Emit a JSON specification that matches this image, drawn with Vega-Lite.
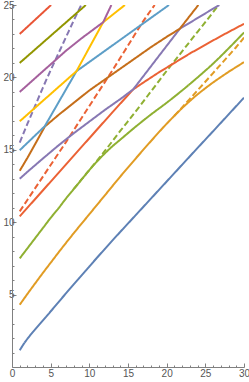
{
  "$schema": "https://vega.github.io/schema/vega-lite/v6.json",
  "width": 232,
  "height": 362,
  "autosize": {"type": "none"},
  "padding": {"left": 12, "top": 5, "right": 5, "bottom": 15},
  "background": "white",
  "config": {"view": {"stroke": null}},
  "data": {"values": [
    {"s": "s01", "st": "solid", "k": "smooth", "x": 1, "y": 1.15}, {"s": "s01", "st": "solid", "k": "smooth", "x": 1.5, "y": 1.58}, {"s": "s01", "st": "solid", "k": "smooth", "x": 2, "y": 1.95}, {"s": "s01", "st": "solid", "k": "smooth", "x": 3, "y": 2.6}, {"s": "s01", "st": "solid", "k": "smooth", "x": 4, "y": 3.22}, {"s": "s01", "st": "solid", "k": "smooth", "x": 5, "y": 3.84}, {"s": "s01", "st": "solid", "k": "smooth", "x": 6, "y": 4.47}, {"s": "s01", "st": "solid", "k": "smooth", "x": 7, "y": 5.1}, {"s": "s01", "st": "solid", "k": "smooth", "x": 8, "y": 5.72}, {"s": "s01", "st": "solid", "k": "smooth", "x": 9, "y": 6.33}, {"s": "s01", "st": "solid", "k": "smooth", "x": 10, "y": 6.94}, {"s": "s01", "st": "solid", "k": "smooth", "x": 11, "y": 7.55}, {"s": "s01", "st": "solid", "k": "smooth", "x": 12, "y": 8.15}, {"s": "s01", "st": "solid", "k": "smooth", "x": 13, "y": 8.75}, {"s": "s01", "st": "solid", "k": "smooth", "x": 14, "y": 9.33}, {"s": "s01", "st": "solid", "k": "smooth", "x": 16, "y": 10.49}, {"s": "s01", "st": "solid", "k": "smooth", "x": 18, "y": 11.65}, {"s": "s01", "st": "solid", "k": "smooth", "x": 20, "y": 12.81}, {"s": "s01", "st": "solid", "k": "smooth", "x": 22, "y": 13.97}, {"s": "s01", "st": "solid", "k": "smooth", "x": 24, "y": 15.13}, {"s": "s01", "st": "solid", "k": "smooth", "x": 26, "y": 16.28}, {"s": "s01", "st": "solid", "k": "smooth", "x": 28, "y": 17.44}, {"s": "s01", "st": "solid", "k": "smooth", "x": 30, "y": 18.6},

    {"s": "s02", "st": "solid", "k": "smooth", "x": 1, "y": 4.3}, {"s": "s02", "st": "solid", "k": "smooth", "x": 2, "y": 5.05}, {"s": "s02", "st": "solid", "k": "smooth", "x": 3, "y": 5.78}, {"s": "s02", "st": "solid", "k": "smooth", "x": 4, "y": 6.5}, {"s": "s02", "st": "solid", "k": "smooth", "x": 5, "y": 7.2}, {"s": "s02", "st": "solid", "k": "smooth", "x": 6, "y": 7.9}, {"s": "s02", "st": "solid", "k": "smooth", "x": 8, "y": 9.25}, {"s": "s02", "st": "solid", "k": "smooth", "x": 10, "y": 10.55}, {"s": "s02", "st": "solid", "k": "smooth", "x": 12, "y": 11.85}, {"s": "s02", "st": "solid", "k": "smooth", "x": 14, "y": 13.15}, {"s": "s02", "st": "solid", "k": "smooth", "x": 16, "y": 14.4}, {"s": "s02", "st": "solid", "k": "smooth", "x": 18, "y": 15.62}, {"s": "s02", "st": "solid", "k": "smooth", "x": 20, "y": 16.8}, {"s": "s02", "st": "solid", "k": "smooth", "x": 21, "y": 17.35}, {"s": "s02", "st": "solid", "k": "smooth", "x": 22, "y": 17.88}, {"s": "s02", "st": "solid", "k": "smooth", "x": 23, "y": 18.37}, {"s": "s02", "st": "solid", "k": "smooth", "x": 24, "y": 18.83}, {"s": "s02", "st": "solid", "k": "smooth", "x": 25, "y": 19.25}, {"s": "s02", "st": "solid", "k": "smooth", "x": 26, "y": 19.65}, {"s": "s02", "st": "solid", "k": "smooth", "x": 27, "y": 20.02}, {"s": "s02", "st": "solid", "k": "smooth", "x": 28, "y": 20.38}, {"s": "s02", "st": "solid", "k": "smooth", "x": 29, "y": 20.72}, {"s": "s02", "st": "solid", "k": "smooth", "x": 30, "y": 21.05},

    {"s": "s03", "st": "solid", "k": "smooth", "x": 1, "y": 7.5}, {"s": "s03", "st": "solid", "k": "smooth", "x": 2, "y": 8.2}, {"s": "s03", "st": "solid", "k": "smooth", "x": 3, "y": 8.9}, {"s": "s03", "st": "solid", "k": "smooth", "x": 4, "y": 9.6}, {"s": "s03", "st": "solid", "k": "smooth", "x": 5, "y": 10.3}, {"s": "s03", "st": "solid", "k": "smooth", "x": 6, "y": 10.95}, {"s": "s03", "st": "solid", "k": "smooth", "x": 7, "y": 11.65}, {"s": "s03", "st": "solid", "k": "smooth", "x": 8, "y": 12.3}, {"s": "s03", "st": "solid", "k": "smooth", "x": 9, "y": 12.95}, {"s": "s03", "st": "solid", "k": "smooth", "x": 10, "y": 13.6}, {"s": "s03", "st": "solid", "k": "smooth", "x": 11, "y": 14.2}, {"s": "s03", "st": "solid", "k": "smooth", "x": 12, "y": 14.75}, {"s": "s03", "st": "solid", "k": "smooth", "x": 13, "y": 15.25}, {"s": "s03", "st": "solid", "k": "smooth", "x": 14, "y": 15.7}, {"s": "s03", "st": "solid", "k": "smooth", "x": 16, "y": 16.6}, {"s": "s03", "st": "solid", "k": "smooth", "x": 18, "y": 17.45}, {"s": "s03", "st": "solid", "k": "smooth", "x": 20, "y": 18.25}, {"s": "s03", "st": "solid", "k": "smooth", "x": 22, "y": 19.1}, {"s": "s03", "st": "solid", "k": "smooth", "x": 24, "y": 20.0}, {"s": "s03", "st": "solid", "k": "smooth", "x": 26, "y": 20.95}, {"s": "s03", "st": "solid", "k": "smooth", "x": 28, "y": 22.0}, {"s": "s03", "st": "solid", "k": "smooth", "x": 30, "y": 23.1},

    {"s": "s04", "st": "solid", "k": "sharp", "x": 1, "y": 10.4}, {"s": "s04", "st": "solid", "k": "sharp", "x": 3, "y": 11.6}, {"s": "s04", "st": "solid", "k": "sharp", "x": 5, "y": 12.8}, {"s": "s04", "st": "solid", "k": "sharp", "x": 7, "y": 14.0}, {"s": "s04", "st": "solid", "k": "sharp", "x": 9, "y": 15.2}, {"s": "s04", "st": "solid", "k": "sharp", "x": 11, "y": 16.4}, {"s": "s04", "st": "solid", "k": "sharp", "x": 13, "y": 17.6}, {"s": "s04", "st": "solid", "k": "sharp", "x": 15.67, "y": 19.17}, {"s": "s04", "st": "solid", "k": "sharp", "x": 17, "y": 19.65}, {"s": "s04", "st": "solid", "k": "sharp", "x": 19, "y": 20.35}, {"s": "s04", "st": "solid", "k": "sharp", "x": 21, "y": 21.0}, {"s": "s04", "st": "solid", "k": "sharp", "x": 23, "y": 21.65}, {"s": "s04", "st": "solid", "k": "sharp", "x": 25, "y": 22.25}, {"s": "s04", "st": "solid", "k": "sharp", "x": 27, "y": 22.85}, {"s": "s04", "st": "solid", "k": "sharp", "x": 30, "y": 23.7},

    {"s": "s05", "st": "solid", "k": "sharp", "x": 1, "y": 13.0}, {"s": "s05", "st": "solid", "k": "sharp", "x": 2, "y": 13.48}, {"s": "s05", "st": "solid", "k": "sharp", "x": 4, "y": 14.4}, {"s": "s05", "st": "solid", "k": "sharp", "x": 6, "y": 15.3}, {"s": "s05", "st": "solid", "k": "sharp", "x": 8, "y": 16.15}, {"s": "s05", "st": "solid", "k": "sharp", "x": 10, "y": 16.95}, {"s": "s05", "st": "solid", "k": "sharp", "x": 12, "y": 17.75}, {"s": "s05", "st": "solid", "k": "sharp", "x": 14, "y": 18.5}, {"s": "s05", "st": "solid", "k": "sharp", "x": 15.67, "y": 19.17}, {"s": "s05", "st": "solid", "k": "sharp", "x": 21.7, "y": 23.36}, {"s": "s05", "st": "solid", "k": "sharp", "x": 26.8, "y": 25.0},

    {"s": "s06", "st": "solid", "k": "sharp", "x": 1, "y": 13.55}, {"s": "s06", "st": "solid", "k": "sharp", "x": 2, "y": 14.45}, {"s": "s06", "st": "solid", "k": "sharp", "x": 3, "y": 15.4}, {"s": "s06", "st": "solid", "k": "sharp", "x": 4.24, "y": 16.6}, {"s": "s06", "st": "solid", "k": "sharp", "x": 6, "y": 17.4}, {"s": "s06", "st": "solid", "k": "sharp", "x": 8, "y": 18.25}, {"s": "s06", "st": "solid", "k": "sharp", "x": 10, "y": 19.1}, {"s": "s06", "st": "solid", "k": "sharp", "x": 12, "y": 19.85}, {"s": "s06", "st": "solid", "k": "sharp", "x": 14, "y": 20.6}, {"s": "s06", "st": "solid", "k": "sharp", "x": 16, "y": 21.35}, {"s": "s06", "st": "solid", "k": "sharp", "x": 18, "y": 22.1}, {"s": "s06", "st": "solid", "k": "sharp", "x": 20, "y": 22.8}, {"s": "s06", "st": "solid", "k": "sharp", "x": 21.7, "y": 23.36}, {"s": "s06", "st": "solid", "k": "sharp", "x": 23, "y": 24.25}, {"s": "s06", "st": "solid", "k": "sharp", "x": 24.1, "y": 25.0},

    {"s": "s07", "st": "solid", "k": "sharp", "x": 1, "y": 14.97}, {"s": "s07", "st": "solid", "k": "sharp", "x": 4.24, "y": 16.63}, {"s": "s07", "st": "solid", "k": "sharp", "x": 8.34, "y": 20.43}, {"s": "s07", "st": "solid", "k": "sharp", "x": 12, "y": 21.83}, {"s": "s07", "st": "solid", "k": "sharp", "x": 16, "y": 23.36}, {"s": "s07", "st": "solid", "k": "sharp", "x": 20.3, "y": 25.0},

    {"s": "s08", "st": "solid", "k": "sharp", "x": 1, "y": 16.97}, {"s": "s08", "st": "solid", "k": "sharp", "x": 8.34, "y": 20.43}, {"s": "s08", "st": "solid", "k": "sharp", "x": 11.79, "y": 23.81}, {"s": "s08", "st": "solid", "k": "sharp", "x": 14.6, "y": 25.0},

    {"s": "s09", "st": "solid", "k": "sharp", "x": 1, "y": 19.0}, {"s": "s09", "st": "solid", "k": "sharp", "x": 3, "y": 19.95}, {"s": "s09", "st": "solid", "k": "sharp", "x": 5, "y": 20.9}, {"s": "s09", "st": "solid", "k": "sharp", "x": 7, "y": 21.85}, {"s": "s09", "st": "solid", "k": "sharp", "x": 9, "y": 22.7}, {"s": "s09", "st": "solid", "k": "sharp", "x": 10, "y": 23.1}, {"s": "s09", "st": "solid", "k": "sharp", "x": 11.79, "y": 23.81}, {"s": "s09", "st": "solid", "k": "sharp", "x": 12.85, "y": 25.0},

    {"s": "s10", "st": "solid", "k": "sharp", "x": 1, "y": 21.0}, {"s": "s10", "st": "solid", "k": "sharp", "x": 9.55, "y": 25.0},

    {"s": "s11", "st": "solid", "k": "sharp", "x": 1, "y": 23.0}, {"s": "s11", "st": "solid", "k": "sharp", "x": 5.05, "y": 25.0},

    {"s": "d02", "st": "dashed", "k": "smooth", "x": 21, "y": 17.35}, {"s": "d02", "st": "dashed", "k": "smooth", "x": 22, "y": 17.93}, {"s": "d02", "st": "dashed", "k": "smooth", "x": 23, "y": 18.52}, {"s": "d02", "st": "dashed", "k": "smooth", "x": 24, "y": 19.11}, {"s": "d02", "st": "dashed", "k": "smooth", "x": 25, "y": 19.7}, {"s": "d02", "st": "dashed", "k": "smooth", "x": 26, "y": 20.3}, {"s": "d02", "st": "dashed", "k": "smooth", "x": 27, "y": 20.9}, {"s": "d02", "st": "dashed", "k": "smooth", "x": 28, "y": 21.5}, {"s": "d02", "st": "dashed", "k": "smooth", "x": 29, "y": 22.1}, {"s": "d02", "st": "dashed", "k": "smooth", "x": 30, "y": 22.75},

    {"s": "d03", "st": "dashed", "k": "smooth", "x": 8, "y": 12.3}, {"s": "d03", "st": "dashed", "k": "smooth", "x": 9, "y": 12.95}, {"s": "d03", "st": "dashed", "k": "smooth", "x": 10, "y": 13.6}, {"s": "d03", "st": "dashed", "k": "smooth", "x": 11, "y": 14.25}, {"s": "d03", "st": "dashed", "k": "smooth", "x": 12, "y": 14.92}, {"s": "d03", "st": "dashed", "k": "smooth", "x": 14, "y": 16.3}, {"s": "d03", "st": "dashed", "k": "smooth", "x": 16, "y": 17.65}, {"s": "d03", "st": "dashed", "k": "smooth", "x": 18, "y": 19.05}, {"s": "d03", "st": "dashed", "k": "smooth", "x": 20, "y": 20.45}, {"s": "d03", "st": "dashed", "k": "smooth", "x": 22, "y": 21.8}, {"s": "d03", "st": "dashed", "k": "smooth", "x": 24, "y": 23.15}, {"s": "d03", "st": "dashed", "k": "smooth", "x": 26, "y": 24.5}, {"s": "d03", "st": "dashed", "k": "smooth", "x": 26.5, "y": 24.85},

    {"s": "d04", "st": "dashed", "k": "smooth", "x": 1, "y": 10.75}, {"s": "d04", "st": "dashed", "k": "smooth", "x": 3, "y": 12.35}, {"s": "d04", "st": "dashed", "k": "smooth", "x": 5, "y": 13.95}, {"s": "d04", "st": "dashed", "k": "smooth", "x": 7, "y": 15.55}, {"s": "d04", "st": "dashed", "k": "smooth", "x": 9, "y": 17.2}, {"s": "d04", "st": "dashed", "k": "smooth", "x": 11, "y": 18.85}, {"s": "d04", "st": "dashed", "k": "smooth", "x": 13, "y": 20.5}, {"s": "d04", "st": "dashed", "k": "smooth", "x": 15, "y": 22.2}, {"s": "d04", "st": "dashed", "k": "smooth", "x": 17, "y": 23.9}, {"s": "d04", "st": "dashed", "k": "smooth", "x": 18.45, "y": 25.0},

    {"s": "d05", "st": "dashed", "k": "smooth", "x": 1, "y": 15.5}, {"s": "d05", "st": "dashed", "k": "smooth", "x": 2, "y": 16.8}, {"s": "d05", "st": "dashed", "k": "smooth", "x": 3, "y": 18.05}, {"s": "d05", "st": "dashed", "k": "smooth", "x": 4, "y": 19.3}, {"s": "d05", "st": "dashed", "k": "smooth", "x": 5, "y": 20.5}, {"s": "d05", "st": "dashed", "k": "smooth", "x": 6, "y": 21.65}, {"s": "d05", "st": "dashed", "k": "smooth", "x": 7, "y": 22.8}, {"s": "d05", "st": "dashed", "k": "smooth", "x": 8, "y": 23.95}, {"s": "d05", "st": "dashed", "k": "smooth", "x": 8.95, "y": 25.0}
  ]},
  "resolve": {"axis": {"x": "independent", "y": "independent"}},
  "layer": [
    {
      "transform": [{"filter": "datum.k === 'smooth'"}],
      "mark": {"type": "line", "strokeWidth": 2, "clip": true, "interpolate": "monotone"},
      "encoding": {
        "x": {"field": "x", "type": "quantitative", "scale": {"domain": [0, 30], "nice": false, "zero": false},
          "axis": {"orient": "bottom", "title": null, "values": [0, 5, 10, 15, 20, 25, 30], "tickSize": -4, "tickColor": "#808080", "domainColor": "#808080", "labelColor": "#555555", "labelFont": "Liberation Sans", "labelFontSize": 10, "labelPadding": 5, "grid": false, "labelFlush": false}},
        "y": {"field": "y", "type": "quantitative", "scale": {"domain": [0, 25], "nice": false, "zero": false},
          "axis": {"orient": "left", "title": null, "values": [5, 10, 15, 20, 25], "tickSize": -4, "tickColor": "#808080", "domainColor": "#808080", "labelColor": "#555555", "labelFont": "Liberation Sans", "labelFontSize": 10, "labelPadding": 2, "grid": false, "labelFlush": false}},
        "detail": {"field": "s"},
        "color": {"field": "s", "type": "nominal", "legend": null,
          "scale": {"domain": ["s01", "s02", "s03", "s04", "s05", "s06", "s07", "s08", "s09", "s10", "s11", "d02", "d03", "d04", "d05"],
            "range": ["#5E81B5", "#E19C24", "#8FB032", "#EB6235", "#8778B3", "#C56E1A", "#5D9EC7", "#FFBF00", "#A5609D", "#929600", "#E95536", "#E19C24", "#8FB032", "#EB6235", "#8778B3"]}},
        "strokeDash": {"field": "st", "type": "nominal", "legend": null,
          "scale": {"domain": ["solid", "dashed"], "range": [[1, 0], [6, 3]]}}
      }
    },
    {
      "transform": [{"filter": "datum.k === 'sharp'"}],
      "mark": {"type": "line", "strokeWidth": 2, "clip": true, "interpolate": "linear"},
      "encoding": {
        "x": {"field": "x", "type": "quantitative", "axis": null},
        "y": {"field": "y", "type": "quantitative", "axis": null},
        "detail": {"field": "s"},
        "color": {"field": "s", "type": "nominal", "legend": null},
        "strokeDash": {"field": "st", "type": "nominal", "legend": null}
      }
    },
    {
      "mark": {"type": "point", "opacity": 0},
      "encoding": {
        "x": {"field": "x", "type": "quantitative",
          "axis": {"orient": "bottom", "title": null, "values": [1, 2, 3, 4, 6, 7, 8, 9, 11, 12, 13, 14, 16, 17, 18, 19, 21, 22, 23, 24, 26, 27, 28, 29], "tickSize": -2, "tickColor": "#808080", "domain": false, "labels": false, "grid": false}},
        "y": {"field": "y", "type": "quantitative",
          "axis": {"orient": "left", "title": null, "values": [1, 2, 3, 4, 6, 7, 8, 9, 11, 12, 13, 14, 16, 17, 18, 19, 21, 22, 23, 24], "tickSize": -2, "tickColor": "#808080", "domain": false, "labels": false, "grid": false}}
      }
    }
  ]
}
